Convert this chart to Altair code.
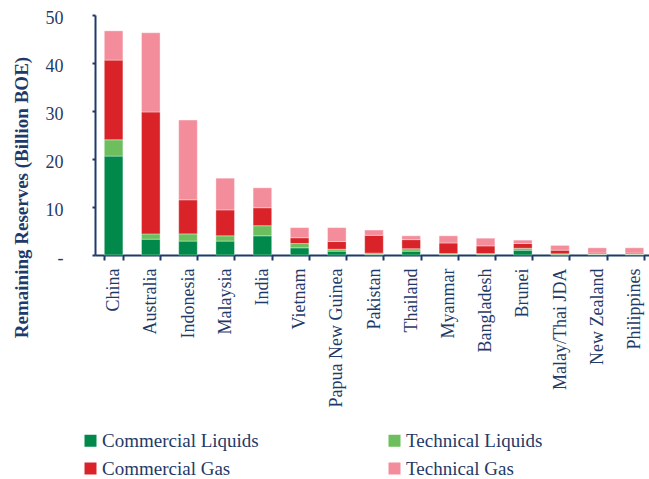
import altair as alt
import pandas as pd

# Remaining reserves by country, billion barrels of oil equivalent
countries = ["China", "Australia", "Indonesia", "Malaysia", "India", "Vietnam",
             "Papua New Guinea", "Pakistan", "Thailand", "Myanmar", "Bangladesh",
             "Brunei", "Malay/Thai JDA", "New Zealand", "Philippines"]
commercial_liquids = [20.6, 3.3, 2.9, 2.9, 4.0, 1.5, 0.8, 0.1, 0.8, 0.1, 0.1, 1.0, 0.05, 0.1, 0.1]
technical_liquids = [3.4, 1.1, 1.5, 1.1, 2.1, 0.9, 0.4, 0.3, 0.5, 0.2, 0.2, 0.4, 0.2, 0.1, 0.1]
commercial_gas = [16.6, 25.4, 7.1, 5.4, 3.75, 1.2, 1.6, 3.7, 1.9, 2.2, 1.6, 1.0, 0.75, 0.2, 0.2]
technical_gas = [6.1, 16.5, 16.6, 6.6, 4.15, 2.1, 2.9, 1.1, 0.8, 1.5, 1.6, 0.7, 1.0, 1.1, 1.1]

# stacking order, bottom to top
series = ["Commercial Liquids", "Technical Liquids", "Commercial Gas", "Technical Gas"]
# legend fills column by column: liquids/gas pairs per column
legend_order = ["Commercial Liquids", "Commercial Gas", "Technical Liquids", "Technical Gas"]
legend_colors = ["#00894A", "#D92328", "#6DBE5C", "#F48D9B"]
navy = "#1F3A68"
serif = "Liberation Serif"

rows = []
for k, (name, vals) in enumerate(zip(series, [commercial_liquids, technical_liquids,
                                              commercial_gas, technical_gas])):
    for c, v in zip(countries, vals):
        rows.append({"country": c, "type": name, "value": v, "stack": k})
df = pd.DataFrame(rows)

chart = alt.Chart(df).mark_bar(
    stroke="white", strokeWidth=0.6, strokeOpacity=0.6
).encode(
    x=alt.X("country:N", sort=countries,
            scale=alt.Scale(paddingInner=0.5, paddingOuter=0.25, range=[0, 558]),
            axis=alt.Axis(title=None, labelAngle=-90, labelFont=serif, labelFontSize=18,
                          labelColor=navy, labelPadding=8, tickSize=5, tickWidth=2,
                          tickColor=navy, tickBand="extent", domainColor=navy,
                          domainWidth=2)),
    y=alt.Y("value:Q", stack="zero",
            scale=alt.Scale(domain=[0, 50], nice=False),
            axis=alt.Axis(title="Remaining Reserves (Billion BOE)", values=[0, 10, 20, 30, 40, 50],
                          labelExpr="datum.value == 0 ? '-' : datum.label",
                          labelFont=serif, labelFontSize=18, labelColor=navy,
                          labelPadding=29, labelOffset=3, tickSize=3, tickWidth=2,
                          tickColor=navy, domainColor=navy, domainWidth=2, grid=False,
                          titleFont=serif, titleFontSize=19, titleFontWeight="bold",
                          titleColor=navy, titleAngle=-90, titleX=-74, titleY=182,
                          titleAlign="center", titleBaseline="middle")),
    color=alt.Color("type:N", sort=legend_order,
                    scale=alt.Scale(domain=legend_order, range=legend_colors),
                    legend=alt.Legend(title=None, orient="none", legendX=-14, legendY=416,
                                      columns=2, columnPadding=126, rowPadding=8,
                                      symbolType="square", symbolSize=144,
                                      symbolStrokeWidth=0, labelOffset=2,
                                      labelFont=serif, labelFontSize=19,
                                      labelColor=navy, padding=0)),
    order=alt.Order("stack:Q", sort="ascending"),
).properties(
    width=554, height=240,
    autosize=alt.AutoSizeParams(type="none"),
    padding={"left": 95, "top": 15, "right": 0, "bottom": 224},
).configure_view(stroke=None)

chart.save("out.html", embed_options={"renderer": "svg", "actions": False})
